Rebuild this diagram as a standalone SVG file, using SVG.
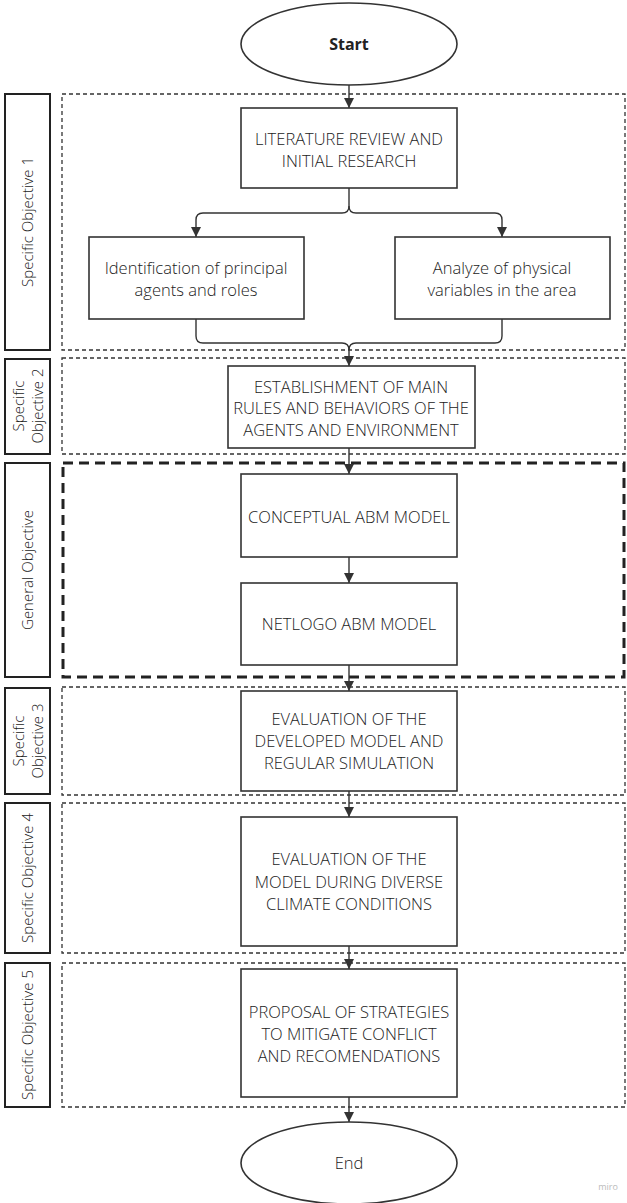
<svg xmlns="http://www.w3.org/2000/svg" width="627" height="1203" viewBox="0 0 627 1203">
  <style>
    .box { fill: #ffffff; stroke: #333333; stroke-width: 1.6; }
    .lane { fill: none; stroke: #333333; stroke-width: 1.3; stroke-dasharray: 4 3; }
    .lane-main { fill: none; stroke: #222222; stroke-width: 3; stroke-dasharray: 10 6; }
    .tag { fill: #ffffff; stroke: #222222; stroke-width: 2; }
    .txt { font-family: "Open Sans", "Liberation Sans", sans-serif; font-size: 16.5px; font-weight: 300; fill: #222222; text-anchor: middle; }
    .txt.strong { font-weight: 700; font-size: 16px; }
    .tagtxt { font-family: "Open Sans", "Liberation Sans", sans-serif; font-size: 15px; font-weight: 300; fill: #1a1a1a; text-anchor: middle; }
    .edge { fill: none; stroke: #333333; stroke-width: 1.4; }
  </style>
  <defs>
    <marker id="arrow" viewBox="0 0 10 10" refX="10" refY="5" markerWidth="10" markerHeight="10" markerUnits="userSpaceOnUse" orient="auto">
      <path d="M0,0 L10,5 L0,10 z" fill="#333333"/>
    </marker>
  </defs>

  <rect width="627" height="1203" fill="#ffffff"/>

  <!-- swimlanes -->
  <g id="lanes">
    <rect class="lane" x="62" y="94" width="563" height="256"/>
    <rect class="lane" x="62" y="358" width="563" height="96"/>
    <rect class="lane-main" x="63" y="463" width="561" height="214"/>
    <rect class="lane" x="62" y="687" width="563" height="108"/>
    <rect class="lane" x="62" y="803" width="563" height="150"/>
    <rect class="lane" x="62" y="963" width="563" height="144"/>
  </g>

  <!-- lane tags -->
  <g id="tag-so1">
    <rect class="tag" x="5" y="94" width="45" height="256"/>
    <text class="tagtxt" transform="translate(33,222) rotate(-90)">Specific Objective 1</text>
  </g>
  <g id="tag-so2">
    <rect class="tag" x="5" y="359" width="45" height="95"/>
    <text class="tagtxt" transform="translate(23.5,406) rotate(-90)">Specific</text>
    <text class="tagtxt" transform="translate(42.5,406) rotate(-90)">Objective 2</text>
  </g>
  <g id="tag-go">
    <rect class="tag" x="5" y="463" width="45" height="214"/>
    <text class="tagtxt" transform="translate(33,570) rotate(-90)">General Objective</text>
  </g>
  <g id="tag-so3">
    <rect class="tag" x="5" y="688" width="45" height="106"/>
    <text class="tagtxt" transform="translate(23.5,741) rotate(-90)">Specific</text>
    <text class="tagtxt" transform="translate(42.5,741) rotate(-90)">Objective 3</text>
  </g>
  <g id="tag-so4">
    <rect class="tag" x="5" y="803" width="45" height="150"/>
    <text class="tagtxt" transform="translate(33,878) rotate(-90)">Specific Objective 4</text>
  </g>
  <g id="tag-so5">
    <rect class="tag" x="5" y="963" width="45" height="144"/>
    <text class="tagtxt" transform="translate(33,1035) rotate(-90)">Specific Objective 5</text>
  </g>

  <!-- connectors -->
  <g id="connectors">
    <path class="edge" d="M349,85 V108" marker-end="url(#arrow)"/>
    <path class="edge" d="M349,188 V206 Q349,213 342,213 H203 Q196,213 196,220 V237" marker-end="url(#arrow)"/>
    <path class="edge" d="M349,206 Q349,213 356,213 H495 Q502,213 502,220 V237" marker-end="url(#arrow)"/>
    <path class="edge" d="M196,319 V336 Q196,343 203,343 H342 Q349,343 349,350 V366" marker-end="url(#arrow)"/>
    <path class="edge" d="M502,319 V336 Q502,343 495,343 H356 Q349,343 349,350"/>
    <path class="edge" d="M349,448 V474" marker-end="url(#arrow)"/>
    <path class="edge" d="M349,557 V583" marker-end="url(#arrow)"/>
    <path class="edge" d="M349,665 V691" marker-end="url(#arrow)"/>
    <path class="edge" d="M349,791 V817" marker-end="url(#arrow)"/>
    <path class="edge" d="M349,946 V969" marker-end="url(#arrow)"/>
    <path class="edge" d="M349,1097 V1122" marker-end="url(#arrow)"/>
  </g>

  <!-- nodes -->
  <g id="start">
    <ellipse class="box" cx="349" cy="44" rx="108" ry="41"/>
    <text class="txt strong" x="349" y="50">Start</text>
  </g>
  <g id="literature">
    <rect class="box" x="241" y="108" width="216" height="80"/>
    <text class="txt" x="349" y="145">LITERATURE REVIEW AND</text>
    <text class="txt" x="349" y="167">INITIAL RESEARCH</text>
  </g>
  <g id="agents">
    <rect class="box" x="89" y="237" width="215" height="82"/>
    <text class="txt" x="196" y="274">Identification of principal</text>
    <text class="txt" x="196" y="296">agents and roles</text>
  </g>
  <g id="physical">
    <rect class="box" x="395" y="237" width="215" height="82"/>
    <text class="txt" x="502" y="274">Analyze of physical</text>
    <text class="txt" x="502" y="296">variables in the area</text>
  </g>
  <g id="rules">
    <rect class="box" x="228" y="366" width="247" height="82"/>
    <text class="txt" x="351" y="393">ESTABLISHMENT OF MAIN</text>
    <text class="txt" x="351" y="414">RULES AND BEHAVIORS OF THE</text>
    <text class="txt" x="351" y="436">AGENTS AND ENVIRONMENT</text>
  </g>
  <g id="conceptual">
    <rect class="box" x="241" y="474" width="216" height="83"/>
    <text class="txt" x="349" y="523">CONCEPTUAL ABM MODEL</text>
  </g>
  <g id="netlogo">
    <rect class="box" x="241" y="583" width="216" height="82"/>
    <text class="txt" x="349" y="630">NETLOGO ABM MODEL</text>
  </g>
  <g id="eval-regular">
    <rect class="box" x="241" y="691" width="216" height="100"/>
    <text class="txt" x="349" y="725">EVALUATION OF THE</text>
    <text class="txt" x="349" y="747">DEVELOPED MODEL AND</text>
    <text class="txt" x="349" y="769">REGULAR SIMULATION</text>
  </g>
  <g id="eval-climate">
    <rect class="box" x="241" y="817" width="216" height="129"/>
    <text class="txt" x="349" y="865">EVALUATION OF THE</text>
    <text class="txt" x="349" y="888">MODEL DURING DIVERSE</text>
    <text class="txt" x="349" y="910">CLIMATE CONDITIONS</text>
  </g>
  <g id="proposal">
    <rect class="box" x="241" y="969" width="216" height="128"/>
    <text class="txt" x="349" y="1018">PROPOSAL OF STRATEGIES</text>
    <text class="txt" x="349" y="1040">TO MITIGATE CONFLICT</text>
    <text class="txt" x="349" y="1062">AND RECOMENDATIONS</text>
  </g>
  <g id="end">
    <ellipse class="box" cx="349" cy="1163" rx="108" ry="41"/>
    <text class="txt" x="349" y="1169">End</text>
  </g>

  <text x="608" y="1190" font-family="Open Sans, Liberation Sans, sans-serif" font-size="9" fill="#bbbbbb" text-anchor="middle">miro</text>
</svg>
